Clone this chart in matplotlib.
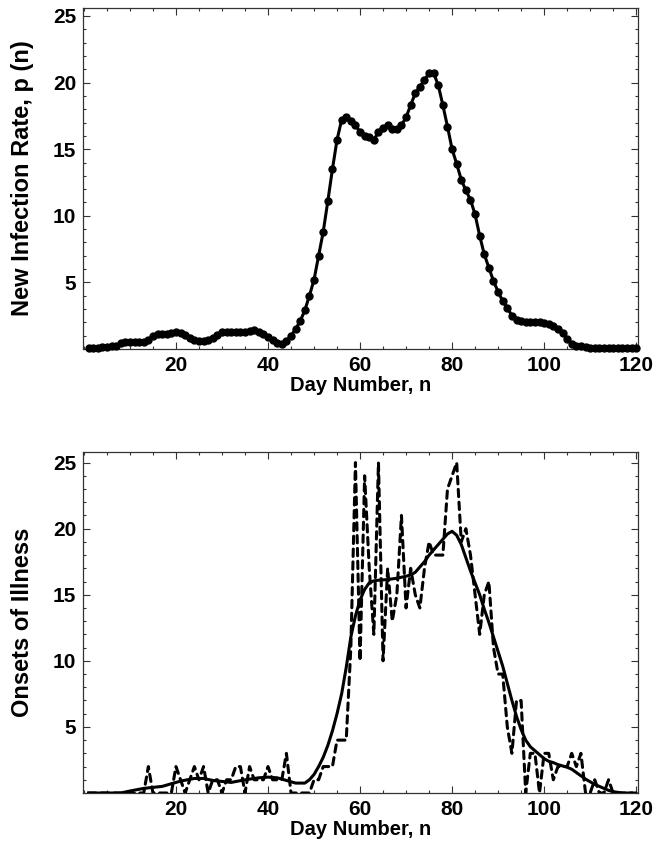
import matplotlib
matplotlib.use("Agg")
import matplotlib.pyplot as plt
from matplotlib.ticker import MultipleLocator

# day index shared by both daily series
DAYS = list(range(1, 121))

# top panel: new infection rate p(n)
INFECTION_RATE = [
    0.1, 0.1, 0.1, 0.15, 0.15, 0.2, 0.25, 0.45, 0.5, 0.5,
    0.5, 0.5, 0.55, 0.7, 0.95, 1.1, 1.1, 1.1, 1.2, 1.3,
    1.2, 1.05, 0.85, 0.7, 0.6, 0.6, 0.7, 0.85, 1.05, 1.25,
    1.3, 1.3, 1.3, 1.3, 1.3, 1.35, 1.4, 1.25, 1.1, 0.9,
    0.65, 0.45, 0.35, 0.6, 1.0, 1.5, 2.1, 2.9, 4.0, 5.2,
    7.0, 8.8, 11.1, 13.5, 15.7, 17.2, 17.4, 17.1, 16.8, 16.3,
    16.0, 15.9, 15.7, 16.3, 16.6, 16.8, 16.5, 16.5, 16.8, 17.4,
    18.3, 19.2, 19.7, 20.2, 20.7, 20.7, 19.8, 18.3, 16.7, 15.0,
    13.9, 12.7, 11.9, 11.2, 10.1, 8.5, 7.1, 6.1, 5.1, 4.3,
    3.6, 3.1, 2.5, 2.2, 2.1, 2.05, 2.0, 2.0, 2.0, 1.95,
    1.9, 1.75, 1.5, 1.2, 0.75, 0.4, 0.25, 0.2, 0.15, 0.1,
    0.05, 0.05, 0.05, 0.05, 0.05, 0.05, 0.05, 0.05, 0.05, 0.05,
]

# bottom panel: daily onsets of illness (dashed)
ONSETS = [
    0, 0, 0, 0, 0, 0, 0, 0, 0, 0,
    0, 0, 0, 2, 0, 0, 0, 0, 0, 2,
    1, 0, 1, 2, 1, 2, 0, 1, 1, 0,
    1, 1, 2, 2, 0, 2, 1, 1, 1, 2,
    1, 1, 1, 3, 0, 0, 0, 0, 0, 1,
    1, 2, 2, 2, 4, 4, 4, 11, 25, 10,
    24, 17, 12, 25, 10, 17, 13, 15, 21, 14,
    17, 15, 14, 17, 19, 18, 18, 18, 23, 24,
    25, 19, 20, 18, 15, 12, 15, 16, 11, 9,
    9, 5, 3, 7, 7, 0, 3, 3, 0, 3,
    3, 1, 2, 2, 2, 3, 2, 3, 0, 0,
    1, 0, 0, 1, 0, 0, 0, 0, 0, 0,
]

# bottom panel: smoothed onsets (solid)
SMOOTH_DAYS = [
    1, 8, 10, 13, 17, 21, 24, 26, 28, 32, 35, 38, 40, 42, 44, 46, 48, 49,
    50, 51, 52, 53, 54, 55, 56, 57, 58, 59, 60, 61, 62, 63, 64, 66, 68, 70,
    71, 72, 73, 74, 75, 76, 77, 78, 79, 80, 81, 82, 83, 84, 85, 86, 87, 88,
    89, 90, 91, 92, 93, 94, 95, 96, 97, 98, 99, 100, 101, 102, 103, 104,
    105, 106, 107, 108, 109, 110, 111, 112, 113, 114, 115, 116, 117, 119,
]
SMOOTH_ONSETS = [
    0.0, 0.0, 0.15, 0.35, 0.5, 0.9, 1.1, 1.1, 0.95, 0.8, 1.0, 1.15, 1.2, 1.15, 0.95, 0.75, 0.75, 1.0,
    1.4, 2.0, 2.7, 3.6, 4.7, 6.0, 7.5, 9.5, 11.8, 13.4, 14.6, 15.4, 15.9, 16.05, 16.1, 16.15, 16.25, 16.4,
    16.5, 16.7, 17.1, 17.5, 18.0, 18.4, 18.8, 19.2, 19.6, 19.8, 19.5, 18.8, 17.8, 16.8, 15.9, 15.0, 13.9, 12.9,
    11.8, 10.7, 9.6, 8.3, 7.0, 5.8, 4.8, 4.0, 3.5, 3.2, 2.9, 2.6, 2.4, 2.3, 2.15, 2.05,
    1.95, 1.8, 1.55, 1.3, 1.05, 0.85, 0.65, 0.5, 0.35, 0.2, 0.1, 0.05, 0.0, 0.0,
]

X_TICKS = [20, 40, 60, 80, 100, 120]
Y_TICKS = [5, 10, 15, 20, 25]

plt.rcParams["font.family"] = ["Liberation Sans", "DejaVu Sans"]
plt.rcParams["font.weight"] = "bold"

W, H = 659, 855
fig = plt.figure(figsize=(W / 100, H / 100), dpi=100)
ax1 = fig.add_axes([83 / W, 1 - 349 / H, 555 / W, 341 / H])
ax2 = fig.add_axes([83 / W, 1 - 793 / H, 555 / W, 341 / H])


def style(ax, ylabel, ytop):
    ax.set_xlim(-0.2, 120.4)
    ax.set_ylim(0, ytop)
    ax.set_xticks(X_TICKS)
    ax.set_yticks(Y_TICKS)
    ax.xaxis.set_minor_locator(MultipleLocator(5))
    ax.yaxis.set_minor_locator(MultipleLocator(1))
    ax.tick_params(which="both", direction="in", top=True, right=True,
                   labelsize=15, pad=5, width=0.8, color="#333333")
    ax.tick_params(which="major", length=5)
    ax.tick_params(which="minor", length=2.5)
    for s in ax.spines.values():
        s.set_linewidth(0.9)
        s.set_color("#333333")
    ax.set_xlabel("Day Number, n", fontsize=14.5, fontweight="bold")
    ax.set_ylabel(ylabel, fontsize=17, fontweight="bold")
    ax.xaxis.set_label_coords(0.5, -0.08)
    ax.yaxis.set_label_coords(-0.088, 0.5)


# top: infection rate with dots
ax1.plot(DAYS, INFECTION_RATE, color="black", lw=2.2, marker="o", ms=5,
         clip_on=False, zorder=3)
style(ax1, "New Infection Rate, p (n)", 25.6)

# bottom: daily onsets (dashed) + smoothed curve
ax2.plot(DAYS, ONSETS, color="black", lw=2.2, dashes=(2.4, 1.8),
         dash_capstyle="round", zorder=3)
ax2.plot(SMOOTH_DAYS, SMOOTH_ONSETS, color="black", lw=2.2, zorder=4)
style(ax2, "Onsets of Illness", 25.8)

fig.savefig("out.png", dpi=100)
